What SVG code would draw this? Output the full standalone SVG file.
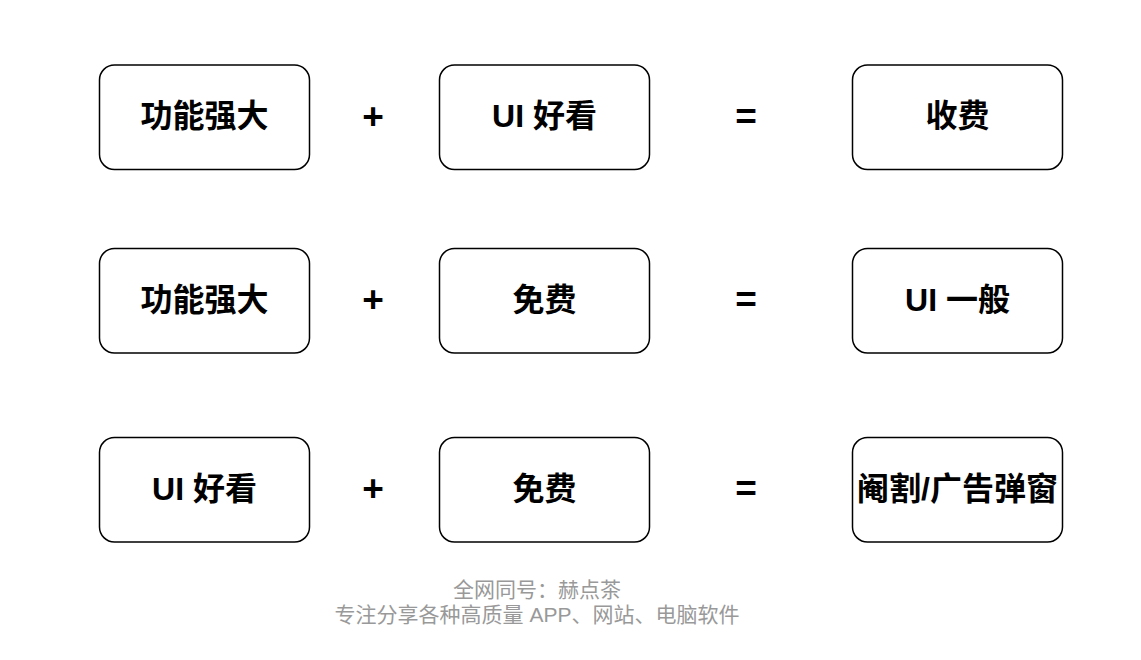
<svg xmlns="http://www.w3.org/2000/svg" width="1141" height="660" viewBox="0 0 1141 660">
<style>
.box{fill:#fff;stroke:#000;stroke-width:1.5}
.t{font-family:"Liberation Sans","Noto Sans CJK SC",sans-serif;font-weight:bold;font-size:32px;fill:#000;text-anchor:middle;dominant-baseline:central}
.op{font-family:"Liberation Sans","Noto Sans CJK SC",sans-serif;font-weight:bold;font-size:37px;fill:#000;text-anchor:middle;dominant-baseline:central}
.f{font-family:"Liberation Sans","Noto Sans CJK SC",sans-serif;font-size:21px;fill:#999;text-anchor:middle}
</style>
<rect width="1141" height="660" fill="#fff"/>
<g id="r1a"><rect class="box" x="99.5" y="65" width="210" height="104.5" rx="15"/><text class="t" x="204.5" y="116">功能强大</text></g>
<g id="r1b"><rect class="box" x="439.5" y="65" width="210" height="104.5" rx="15"/><text class="t" x="544.5" y="116">UI 好看</text></g>
<g id="r1c"><rect class="box" x="852.5" y="65" width="210" height="104.5" rx="15"/><text class="t" x="957.5" y="116">收费</text></g>
<g id="r2a"><rect class="box" x="99.5" y="248.5" width="210" height="104.5" rx="15"/><text class="t" x="204.5" y="299.5">功能强大</text></g>
<g id="r2b"><rect class="box" x="439.5" y="248.5" width="210" height="104.5" rx="15"/><text class="t" x="544.5" y="299.5">免费</text></g>
<g id="r2c"><rect class="box" x="852.5" y="248.5" width="210" height="104.5" rx="15"/><text class="t" x="957.5" y="299.5">UI 一般</text></g>
<g id="r3a"><rect class="box" x="99.5" y="437.5" width="210" height="104.5" rx="15"/><text class="t" x="204.5" y="488.5">UI 好看</text></g>
<g id="r3b"><rect class="box" x="439.5" y="437.5" width="210" height="104.5" rx="15"/><text class="t" x="544.5" y="488.5">免费</text></g>
<g id="r3c"><rect class="box" x="852.5" y="437.5" width="210" height="104.5" rx="15"/><text class="t" x="957.5" y="488.5">阉割/广告弹窗</text></g>
<g id="ops">
<text class="op" x="373" y="116">+</text><text class="op" x="746" y="116">=</text>
<text class="op" x="373" y="299.5">+</text><text class="op" x="746" y="299.5">=</text>
<text class="op" x="373" y="488.5">+</text><text class="op" x="746" y="488.5">=</text>
</g>
<g id="footer">
<text class="f" x="537" y="597">全网同号：赫点茶</text>
<text class="f" x="537" y="622">专注分享各种高质量 APP、网站、电脑软件</text>
</g>
</svg>
